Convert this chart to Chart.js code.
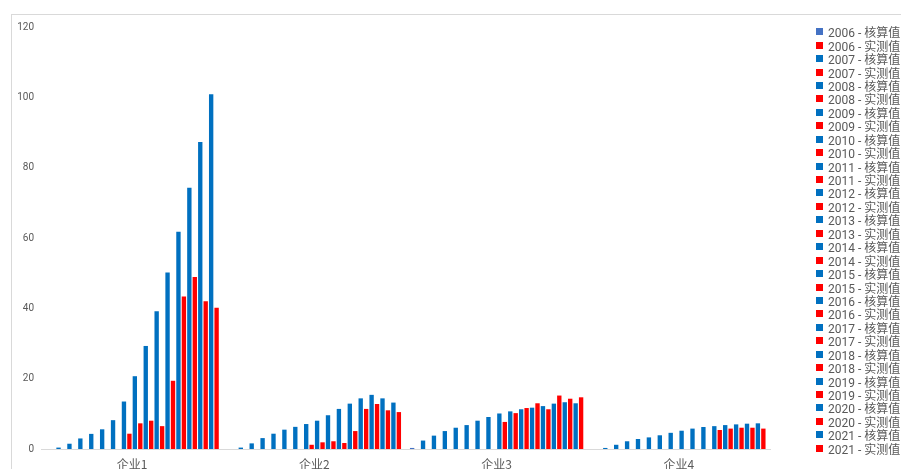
<!DOCTYPE html>
<html>
<head>
<meta charset="utf-8">
<script src="https://cdn.jsdelivr.net/npm/chart.js@4"></script>
<style>
  html, body { margin: 0; padding: 0; background: #fff; overflow: hidden; }
  #wrap { position: relative; width: 901px; height: 469px; overflow: hidden; }
  #frame { position: absolute; left: 11px; top: 14px; width: 2000px; height: 2000px; border: 1px solid #d9d9d9; }
  #chart { position: absolute; left: 0; top: 0; }
  #legend { position: absolute; left: 816px; top: 25px; margin: 0; padding: 0; list-style: none; }
  #legend li { height: 13.45px; display: flex; align-items: center; white-space: nowrap;
               font: 12px Roboto, "Noto Sans CJK SC", sans-serif; color: #595959; }
  #legend li span.box { display: inline-block; width: 7px; height: 7px; margin-right: 5px; }
</style>
</head>
<body>
<div id="wrap">
  <div id="frame"></div>
  <canvas id="chart" width="901" height="469"></canvas>
  <ul id="legend"></ul>
</div>
<script>
// Categorías y años
const companies = ["企业1", "企业2", "企业3", "企业4"];
const years = [2006, 2007, 2008, 2009, 2010, 2011, 2012, 2013, 2014, 2015, 2016, 2017, 2018, 2019, 2020, 2021];
const yTicks = [0, 20, 40, 60, 80, 100, 120];

// 核算值 por empresa (2006..2021)
const calc1 = [null, 0.4, 1.5, 3.0, 4.3, 5.6, 8.2, 13.5, 20.7, 29.3, 39.2, 50.2, 61.8, 74.3, 87.3, 100.9];
const calc2 = [null, 0.4, 1.6, 3.1, 4.35, 5.5, 6.3, 7.1, 8.05, 9.6, 11.4, 12.9, 14.4, 15.4, 14.4, 13.2];
const calc3 = [0.3, 2.4, 3.8, 5.1, 6.05, 6.8, 8.05, 9.1, 10.1, 10.7, 11.3, 11.75, 12.2, 12.9, 13.3, 13.0];
const calc4 = [null, 0.3, 1.2, 2.2, 2.85, 3.3, 3.9, 4.6, 5.2, 5.8, 6.25, 6.5, 6.8, 7.0, 7.2, 7.3];

// 实测值 por empresa (2006..2021)
const meas1 = [null, null, null, null, null, null, null, 4.35, 7.3, 8.05, 6.5, 19.4, 43.4, 48.9, 42.0, 40.2];
const meas2 = [null, null, null, null, null, null, null, 1.2, 1.9, 2.2, 1.7, 5.1, 11.4, 12.8, 11.0, 10.5];
const meas3 = [null, null, null, null, null, null, null, null, 7.7, 10.2, 11.65, 13.0, 11.3, 15.2, 14.3, 14.7];
const meas4 = [null, null, null, null, null, null, null, null, null, null, null, 5.4, 5.8, 6.05, 6.05, 5.8];

const calcByCompany = [calc1, calc2, calc3, calc4];
const measByCompany = [meas1, meas2, meas3, meas4];

// Un dataset por año y tipo (valores por empresa)
function buildDatasets() {
    const datasets = [];
    years.forEach((year, i) => {
        datasets.push({
            label: year + " - 核算值",
            data: calcByCompany.map(arr => arr[i]),
            backgroundColor: i === 0 ? "#4472C4" : "#0070C0"
        });
        datasets.push({
            label: year + " - 实测值",
            data: measByCompany.map(arr => arr[i]),
            backgroundColor: "#FF0000"
        });
    });
    return datasets;
}

// Leyenda HTML a partir de los datasets
const htmlLegend = {
    id: "htmlLegend",
    afterUpdate(chart) {
        const ul = document.getElementById("legend");
        ul.innerHTML = "";
        chart.data.datasets.forEach(ds => {
            const li = document.createElement("li");
            li.innerHTML = `<span class="box" style="background:${ds.backgroundColor}"></span>${ds.label}`;
            ul.appendChild(li);
        });
    }
};

const ctx = document.getElementById("chart").getContext("2d");
new Chart(ctx, {
    type: "bar",
    data: { labels: companies, datasets: buildDatasets() },
    options: {
        responsive: false,
        animation: false,
        devicePixelRatio: 1,
        categoryPercentage: 0.957,
        barPercentage: 0.8,
        layout: { padding: { top: 27, right: 131, left: 0, bottom: 0 } },
        plugins: { legend: { display: false }, tooltip: { enabled: false } },
        scales: {
            x: {
                grid: { display: false, drawTicks: false },
                border: { display: true, color: "#d9d9d9", width: 1 },
                ticks: { color: "#595959", padding: 8, font: { family: "'Noto Sans CJK SC'", size: 12 } },
                afterFit(scale) { scale.height = 20; }
            },
            y: {
                min: 0,
                max: 120,
                afterBuildTicks(scale) { scale.ticks = yTicks.map(v => ({ value: v })); },
                grid: { display: false, drawTicks: false },
                border: { display: false },
                ticks: { color: "#595959", padding: 7, font: { family: "Roboto", size: 10 } },
                afterFit(scale) { scale.width = 41; }
            }
        }
    },
    plugins: [htmlLegend]
});
</script>
</body>
</html>
